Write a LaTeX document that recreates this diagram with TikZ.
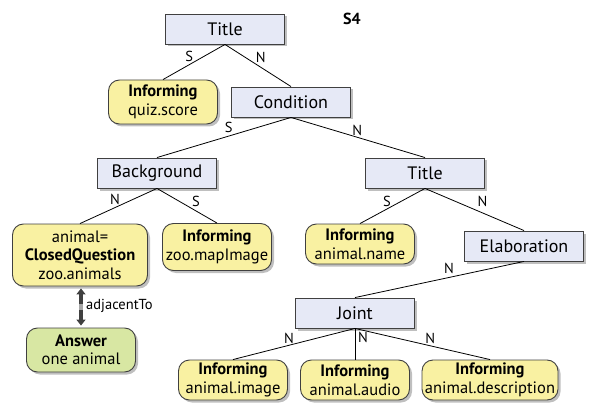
\documentclass[tikz,border=0pt]{standalone}
\usepackage{fontspec}
\setmainfont{PT Sans}
\usetikzlibrary{shadows,arrows.meta,calc}
\begin{document}
\begin{tikzpicture}[x=1pt,y=-1pt,
  relbox/.style={draw=black!75,line width=0.9pt,fill=relfill,minimum width=119pt,minimum height=30pt,
    inner sep=0pt,font=\fontsize{18}{20}\selectfont,
    drop shadow={shadow xshift=2.5pt,shadow yshift=-2.5pt,opacity=0.5}},
  actbox/.style={draw=black!75,line width=0.9pt,fill=actfill,rounded corners=11pt,minimum width=109pt,
    minimum height=44pt,inner sep=0pt,align=center,font=\fontsize{16.5}{18.5}\selectfont,
    drop shadow={shadow xshift=2.5pt,shadow yshift=-2.5pt,opacity=0.5}},
  ansbox/.style={actbox,fill=ansfill},
  edge/.style={draw=black,line width=0.8pt},
  lbl/.style={font=\fontsize{14.5}{16}\selectfont,inner sep=0pt,anchor=center}]
\definecolor{relfill}{HTML}{E6E9F6}
\definecolor{actfill}{HTML}{F9F1A2}
\definecolor{ansfill}{HTML}{D8E7A3}
\useasboundingbox (0,0) rectangle (591,406);

% rhetorical relations
\node[relbox] (t1) at (225,29) {Title};
\node[relbox] (cond) at (291,102) {Condition};
\node[relbox] (bg) at (157,173) {Background};
\node[relbox] (t2) at (425,173) {Title};
\node[relbox] (elab) at (524,246) {Elaboration};
\node[relbox] (joint) at (355,313) {Joint};

% leaves
\node[actbox] (quiz) at (163,102) {\textbf{Informing}\\quiz.score};
\node[actbox,minimum width=135pt,minimum height=62pt] (cq) at (80,255)
  {animal=\\\textbf{ClosedQuestion}\\zoo.animals};
\node[actbox,minimum height=47pt] (map) at (217,247) {\textbf{Informing}\\zoo.mapImage};
\node[actbox,minimum height=40pt] (name) at (360,244) {\textbf{Informing}\\animal.name};
\node[ansbox] (ans) at (81,350) {\textbf{Answer}\\one animal};
\node[actbox,minimum height=40pt] (img) at (233,380) {\textbf{Informing}\\animal.image};
\node[actbox,minimum height=40pt] (aud) at (355,380) {\textbf{Informing}\\animal.audio};
\node[actbox,minimum width=136pt,minimum height=40pt] (desc) at (490,380) {\textbf{Informing}\\animal.description};

\node[font=\bfseries\fontsize{16}{18}\selectfont] (s4) at (352,19) {S4};

% tree edges with nuclearity labels
\draw[edge] (t1.south) -- (quiz.north) node[lbl,pos=.35,xshift=-14pt] {S};
\draw[edge] (t1.south) -- (cond.north) node[lbl,pos=.3,xshift=16pt] {N};
\draw[edge] (cond.south) -- (bg.north) node[lbl,pos=.45,xshift=-2pt,yshift=8pt] {S};
\draw[edge] (cond.south) -- (t2.north) node[lbl,pos=.45,xshift=6pt,yshift=5.5pt] {N};
\draw[edge] (bg.south) -- (cq.north) node[lbl,pos=.35,xshift=-15pt,yshift=1pt] {N};
\draw[edge] (bg.south) -- (map.north) node[lbl,pos=.4,xshift=15pt,yshift=1pt] {S};
\draw[edge] (t2.south) -- (name.north) node[lbl,pos=.4,xshift=-12pt,yshift=1pt] {S};
\draw[edge] (t2.south) -- (elab.north) node[lbl,pos=.55,xshift=3pt,yshift=10pt] {N};
\draw[edge] (elab.south) -- (joint.north) node[lbl,pos=.45,xshift=1pt,yshift=9.5pt] {N};
\draw[edge] (joint.south) -- (img.north) node[lbl,pos=.5,xshift=-5pt,yshift=6pt] {N};
\draw[edge] (joint.south) -- (aud.north) node[lbl,pos=.3,xshift=8pt] {N};
\draw[edge] (joint.south) -- (desc.north) node[lbl,pos=.55,xshift=1pt,yshift=7.5pt] {N};

% adjacency between question and answer: two heads with a light break between
\coordinate (adjtop) at ($(cq.south)+(1,2)$);
\coordinate (adjbot) at ($(ans.north)+(0,-2)$);
\coordinate (adjmid) at ($(adjtop)!0.5!(adjbot)$);
\draw[black!75,line width=3.6pt,-{Triangle[length=6pt,width=9pt]}]
  ($(adjmid)+(0,-3)$) -- (adjtop);
\draw[black!75,line width=3.6pt,-{Triangle[length=6pt,width=9pt]}]
  ($(adjmid)+(0,3)$) -- (adjbot);
\draw[black!35,line width=3.6pt] ($(adjmid)+(0,-3)$) -- ($(adjmid)+(0,3)$);
\node[lbl,anchor=west] (adj) at (86,306) {adjacentTo};
\end{tikzpicture}
\end{document}
